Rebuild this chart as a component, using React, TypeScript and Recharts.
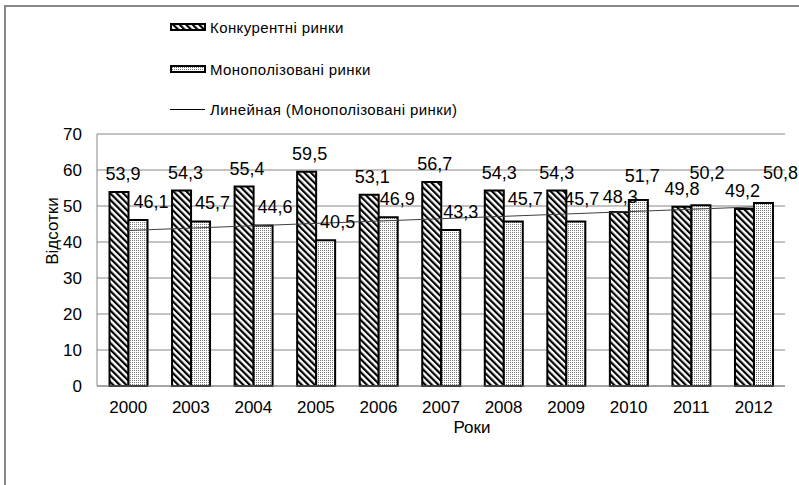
import React from 'react';
import { ComposedChart, Bar, Line, XAxis, YAxis, CartesianGrid, LabelList } from 'recharts';

const years = ['2000', '2003', '2004', '2005', '2006', '2007', '2008', '2009', '2010', '2011', '2012'];
const competitive = [53.9, 54.3, 55.4, 59.5, 53.1, 56.7, 54.3, 54.3, 48.3, 49.8, 49.2];
const monopolized = [46.1, 45.7, 44.6, 40.5, 46.9, 43.3, 45.7, 45.7, 51.7, 50.2, 50.8];
const yTicks = [0, 10, 20, 30, 40, 50, 60, 70];

const seriesNames = {
  comp: 'Конкурентні ринки',
  mono: 'Монополізовані ринки',
  trend: 'Линейная (Монополізовані ринки)',
};

// label nudges (layout only)
const monoLabelDx = [13, 12, 12, 12, 9, 10, 12, 6, 4, 6, 17];
const monoLabelDy = [0, 0, 0, 0, 0, 0, -4, -4, -6, -14, -12];
const compLabelDx = [4, 4, 3, 3, 3, 3, 5, 0, 1, 0, -2];
const compLabelDy = [0, 0, 0, 0, 0, 0, 0, 0, 3, 0, 0];

// linear least-squares trend of the monopolized series (Excel "Linear" trendline)
const n = monopolized.length;
const xs = monopolized.map((_, i) => i + 1);
const mx = xs.reduce((a, b) => a + b, 0) / n;
const my = monopolized.reduce((a, b) => a + b, 0) / n;
const slope =
  xs.reduce((s, x, i) => s + (x - mx) * (monopolized[i] - my), 0) /
  xs.reduce((s, x) => s + (x - mx) * (x - mx), 0);
const intercept = my - slope * mx;

const data = years.map((y, i) => ({
  year: y,
  comp: competitive[i],
  mono: monopolized[i],
  trend: intercept + slope * (i + 1),
}));

const FONT = '"Liberation Sans", Arial, sans-serif';
const GRID = '#868686';
const fmt = (v: number) => v.toFixed(1).replace('.', ',');

const makeLabel = (dxArr: number[], dyArr: number[]) => (props: any) => {
  const { x, y, width, value, index } = props;
  const cx = Number(x) + Number(width) / 2 + (dxArr[index] || 0);
  const by = Number(y) - 12 + (dyArr[index] || 0);
  return (
    <text x={cx} y={by} textAnchor="middle" fontFamily={FONT} fontSize={18} fill="#000">
      {fmt(Number(value))}
    </text>
  );
};

const boundaryTicks = Array.from({ length: years.length + 1 }, (_, i) => i);

function Swatch({ kind }: { kind: 'hatch' | 'dots' }) {
  return (
    <svg width={36} height={8} style={{ display: 'block' }}>
      <defs>
        <pattern id="lg-hatch" patternUnits="userSpaceOnUse" width="4.6" height="4.6" patternTransform="rotate(-45)">
          <rect width="4.6" height="4.6" fill="#fff" />
          <rect width="2.2" height="4.6" fill="#000" />
        </pattern>
        <pattern id="lg-dots" patternUnits="userSpaceOnUse" width="2" height="2">
          <rect width="2" height="2" fill="#fff" />
          <rect width="1" height="1" fill="#777" />
        </pattern>
      </defs>
      <rect x={1} y={1} width={34} height={6} fill={kind === 'hatch' ? 'url(#lg-hatch)' : 'url(#lg-dots)'} stroke="#000" strokeWidth={2} />
    </svg>
  );
}

export default function App() {
  const rowStyle = (cy: number): React.CSSProperties => ({
    position: 'absolute',
    left: 170,
    top: cy - 10,
    height: 20,
    display: 'flex',
    alignItems: 'center',
    fontFamily: FONT,
    fontSize: 15,
    letterSpacing: 0.4,
    color: '#000',
    whiteSpace: 'nowrap',
  });
  return (
    <div style={{ position: 'absolute', left: 0, top: 0, width: 799, height: 485, overflow: 'hidden', background: '#fff' }}>
      <div
        style={{
          position: 'absolute',
          left: 4,
          top: 5,
          width: 900,
          height: 700,
          borderTop: '2px solid #888',
          borderLeft: '2px solid #888',
        }}
      />
      <ComposedChart
        width={799}
        height={485}
        data={data}
        margin={{ top: 134, right: 14, bottom: 69, left: 0 }}
        barCategoryGap="20%"
        barGap={0}
        style={{ position: 'absolute', left: 0, top: 0 }}
      >
        <defs>
          <pattern id="hatch" patternUnits="userSpaceOnUse" width="4.6" height="4.6" patternTransform="rotate(-45)">
            <rect width="4.6" height="4.6" fill="#fff" />
            <rect width="2.2" height="4.6" fill="#000" />
          </pattern>
          <pattern id="dots" patternUnits="userSpaceOnUse" width="2" height="2">
            <rect width="2" height="2" fill="#fff" />
            <rect width="1" height="1" fill="#777" />
          </pattern>
        </defs>
        <CartesianGrid vertical={false} stroke={GRID} strokeWidth={1} />
        <XAxis
          xAxisId="bounds"
          type="number"
          domain={[0, years.length]}
          ticks={boundaryTicks}
          allowDataOverflow
          tick={false}
          axisLine={false}
          tickLine={{ stroke: GRID }}
          tickSize={6}
          height={0}
        />
        <XAxis
          dataKey="year"
          axisLine={{ stroke: GRID }}
          tickLine={false}
          tickSize={6}
          tickMargin={9}
          height={30}
          interval={0}
          tick={{ fontFamily: FONT, fontSize: 17, fill: '#000' }}
          label={{
            content: (p: any) => {
              const vb = p.viewBox || {};
              return (
                <text
                  x={vb.x + vb.width / 2 + 31}
                  y={433}
                  textAnchor="middle"
                  fontFamily={FONT}
                  fontSize={17}
                  fill="#000"
                >
                  Роки
                </text>
              );
            },
          }}
        />
        <YAxis
          width={97}
          domain={[0, 70]}
          ticks={yTicks}
          interval={0}
          axisLine={{ stroke: GRID }}
          tickLine={false}
          tickSize={5}
          tickMargin={10}
          tick={{ fontFamily: FONT, fontSize: 17, fill: '#000' }}
          label={{
            content: () => (
              <text
                x={58}
                y={231}
                transform="rotate(-90 58 231)"
                textAnchor="middle"
                fontFamily={FONT}
                fontSize={17}
                fill="#000"
              >
                Відсотки
              </text>
            ),
          }}
        />
        <Bar dataKey="comp" name={seriesNames.comp} fill="url(#hatch)" stroke="#000" strokeWidth={2} isAnimationActive={false}>
          <LabelList dataKey="comp" content={makeLabel(compLabelDx, compLabelDy)} />
        </Bar>
        <Bar dataKey="mono" name={seriesNames.mono} fill="url(#dots)" stroke="#000" strokeWidth={2} isAnimationActive={false}>
          <LabelList dataKey="mono" content={makeLabel(monoLabelDx, monoLabelDy)} />
        </Bar>
        <Line
          dataKey="trend"
          name={seriesNames.trend}
          type="linear"
          stroke="#404040"
          strokeWidth={1}
          dot={false}
          activeDot={false}
          isAnimationActive={false}
        />
      </ComposedChart>
      <div style={rowStyle(27)}>
        <Swatch kind="hatch" />
        <span style={{ marginLeft: 4 }}>{seriesNames.comp}</span>
      </div>
      <div style={rowStyle(69)}>
        <Swatch kind="dots" />
        <span style={{ marginLeft: 4 }}>{seriesNames.mono}</span>
      </div>
      <div style={rowStyle(109)}>
        <div style={{ width: 35, height: 1, background: '#000' }} />
        <span style={{ marginLeft: 5 }}>{seriesNames.trend}</span>
      </div>
    </div>
  );
}
